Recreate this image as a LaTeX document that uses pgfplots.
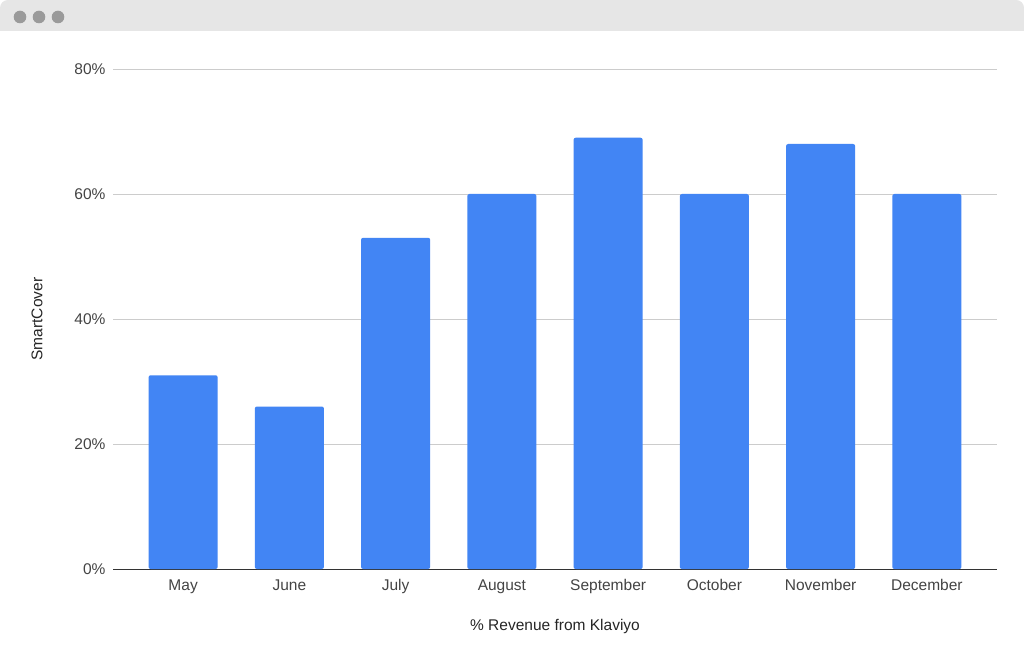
\documentclass[border=0pt]{standalone}
\usepackage{fontspec}
\setmainfont{Liberation Sans}
\usepackage{pgfplots}
\pgfplotsset{compat=1.18}
\definecolor{barblue}{HTML}{4285F4}
\definecolor{gridc}{HTML}{CCCCCC}
\definecolor{axc}{HTML}{333333}
\definecolor{txt}{HTML}{444444}
\definecolor{bar}{HTML}{E6E6E6}
\definecolor{dot}{HTML}{9A9A9A}
\begin{document}
\begin{tikzpicture}[x=1pt,y=1pt]
\fill[white] (0,0) rectangle (1024,665);
\fill[bar, rounded corners=8pt] (0,634) rectangle (1024,665);
\fill[bar] (0,634) rectangle (1024,650);
\fill[dot] (20,648) circle (6.3);
\fill[dot] (39,648) circle (6.3);
\fill[dot] (58,648) circle (6.3);
\begin{axis}[
  at={(113pt,96pt)}, anchor=south west,
  scale only axis, width=884pt, height=500pt,
  ybar, bar width=69pt,
  xmin=-0.66, xmax=7.66, ymin=0, ymax=80,
  xtick=data,
  xticklabels={May,June,July,August,September,October,November,December},
  ytick={0,20,40,60,80},
  yticklabel={\pgfmathprintnumber{\tick}\%},
  /pgf/number format/assume math mode=true,
  major tick length=0pt,
  axis x line*=bottom, axis y line*=left,
  x axis line style={axc, line width=1pt, -},
  y axis line style={draw=none},
  ymajorgrids, grid style={gridc, line width=0.8pt},
  tick label style={font=\fontsize{15.5}{18}\selectfont, text=txt},
  yticklabel style={xshift=-4pt},
  xticklabel style={yshift=-7pt},
  xlabel={\% Revenue from Klaviyo},
  ylabel={SmartCover},
  label style={font=\fontsize{15.5}{18}\selectfont, text=black!85},
  xlabel style={at={(rel axis cs:0.5,0)}, anchor=center, yshift=-57pt},
  ylabel style={at={(rel axis cs:0,0.5)}, anchor=center, rotate=0, yshift=76pt},
  clip=false,
]
\addplot[fill=barblue, draw=none, rounded corners=2pt] coordinates {
(0,31) (1,26) (2,53) (3,60) (4,69) (5,60) (6,68) (7,60)};
\end{axis}
\end{tikzpicture}
\end{document}
